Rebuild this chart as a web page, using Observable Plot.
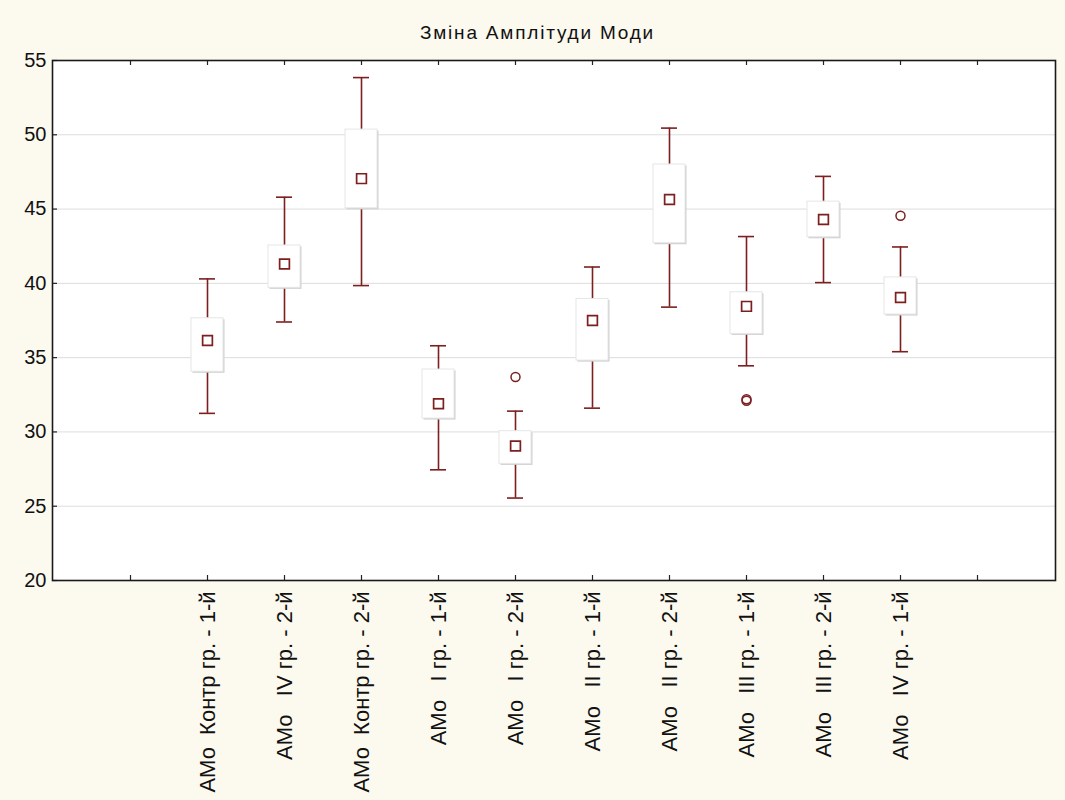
<!DOCTYPE html>
<html>
<head>
<meta charset="utf-8">
<script src="https://cdn.jsdelivr.net/npm/d3@7"></script>
<script src="https://cdn.jsdelivr.net/npm/@observablehq/plot@0.6"></script>
<style>
  html, body { margin: 0; padding: 0; background: #fcf9ef; }
  #fig { width: 1065px; height: 800px; background: #fcf9ef; font-family: "Liberation Sans", Arial, sans-serif; }
  #title { height: 45px; line-height: 66px; text-align: center; font-size: 19px; letter-spacing: 1.8px; color: #111; padding-left: 10px; box-sizing: border-box; }
  svg text { white-space: pre; }
</style>
</head>
<body>
<div id="fig">
  <div id="title">Зміна Амплітуди Моди</div>
</div>
<script>
const categories = [
  "АМо  Контр гр. - 1-й",
  "АМо   IV гр. - 2-й",
  "АМо  Контр гр. - 2-й",
  "АМо   I гр. - 1-й",
  "АМо   I гр. - 2-й",
  "АМо   II гр. - 1-й",
  "АМо   II гр. - 2-й",
  "АМо   III гр. - 1-й",
  "АМо   III гр. - 2-й",
  "АМо   IV гр. - 1-й"
];
const whiskerLow  = [31.25, 37.4, 39.85, 27.45, 25.55, 31.6, 38.4, 34.45, 40.05, 35.4];
const boxLow      = [34.05, 39.7, 45.05, 30.9, 27.85, 34.8, 42.7, 36.6, 43.1, 37.9];
const means       = [36.15, 41.3, 47.05, 31.9, 29.05, 37.5, 45.65, 38.45, 44.3, 39.05];
const boxHigh     = [37.65, 42.55, 50.35, 34.2, 30.05, 38.95, 48.0, 39.4, 45.5, 40.4];
const whiskerHigh = [40.3, 45.8, 53.85, 35.8, 31.4, 41.1, 50.45, 43.15, 47.2, 42.45];
const outlierCats   = ["АМо   I гр. - 2-й", "АМо   III гр. - 1-й", "АМо   III гр. - 1-й", "АМо   IV гр. - 1-й"];
const outlierValues = [33.7, 32.1, 32.2, 44.55];
const yTicks = [20, 25, 30, 35, 40, 45, 50, 55];
const gridValues = [25, 30, 35, 40, 45, 50];
const xDomain = [" ", ...categories, "  "];

const stats = categories.map((c, i) => ({
  cat: c, lo: whiskerLow[i], q1: boxLow[i], mean: means[i], q3: boxHigh[i], hi: whiskerHigh[i]
}));
const outliers = outlierCats.map((c, i) => ({cat: c, v: outlierValues[i]}));

const dark = "#7d1f1f";

const chart = Plot.plot({
  width: 1065,
  height: 755,
  marginTop: 15,
  marginLeft: 52,
  marginRight: 10,
  marginBottom: 220,
  style: {background: "transparent", fontFamily: "Liberation Sans, Arial, sans-serif", color: "#111"},
  x: {type: "band", domain: xDomain, paddingInner: 0.58, paddingOuter: 0.79, label: null},
  y: {domain: [20, 55], label: null},
  marks: [
    Plot.frame({fill: "white", stroke: "none"}),
    Plot.ruleY(gridValues, {stroke: "#dddddd", strokeWidth: 1}),
    // inside ticks
    Plot.ruleX(xDomain, {x: d => d, stroke: "#222", insetTop: 515, strokeWidth: 1.2}),
    Plot.ruleX(xDomain, {x: d => d, stroke: "#222", insetBottom: 515, strokeWidth: 1.2}),
    Plot.ruleY(yTicks, {stroke: "#222", insetRight: 998, strokeWidth: 1.2}),
    // whiskers
    Plot.ruleX(stats, {x: "cat", y1: "lo", y2: "hi", stroke: dark, strokeWidth: 1.6}),
    Plot.tickY(stats, {x: "cat", y: "lo", stroke: dark, strokeWidth: 1.6, insetLeft: 8, insetRight: 8}),
    Plot.tickY(stats, {x: "cat", y: "hi", stroke: dark, strokeWidth: 1.6, insetLeft: 8, insetRight: 8}),
    // box shadow + box
    Plot.barY(stats, {x: "cat", y1: "q1", y2: "q3", fill: "#cfcfcf", dx: 1.5, dy: 1.5}),
    Plot.barY(stats, {x: "cat", y1: "q1", y2: "q3", fill: "white", stroke: "#e6e6e6", strokeWidth: 1}),
    // means
    Plot.dot(stats, {x: "cat", y: "mean", symbol: "square", r: 5.5, fill: "white", stroke: dark, strokeWidth: 1.7}),
    // outliers
    Plot.dot(outliers, {x: "cat", y: "v", r: 4.5, fill: "none", stroke: dark, strokeWidth: 1.5}),
    Plot.frame({stroke: "#1a1a1a", strokeWidth: 1.6}),
    Plot.axisY({ticks: yTicks, tickSize: 0, tickPadding: 6, fontSize: 20, label: null}),
    Plot.axisX({tickSize: 0, tickPadding: 11, tickRotate: -90, fontSize: 22, label: null, tickFormat: d => d.trim() === "" ? "" : d})
  ]
});
document.getElementById("fig").appendChild(chart);
</script>
</body>
</html>
